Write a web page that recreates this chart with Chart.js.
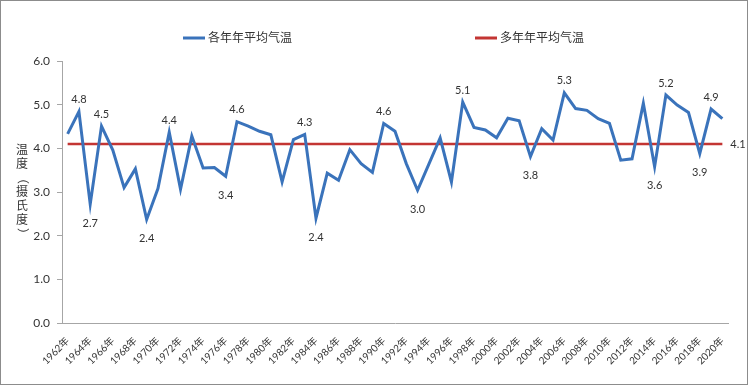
<!DOCTYPE html>
<html>
<head>
<meta charset="utf-8">
<script src="https://cdn.jsdelivr.net/npm/chart.js@4.4.1/dist/chart.umd.min.js"></script>
<style>
  html, body { margin: 0; padding: 0; background: #fff; }
  canvas { display: block; }
</style>
</head>
<body>
<canvas id="myChart" width="748" height="385"></canvas>
<script>
var years = ['1962年','1963年','1964年','1965年','1966年','1967年','1968年','1969年','1970年','1971年',
             '1972年','1973年','1974年','1975年','1976年','1977年','1978年','1979年','1980年','1981年',
             '1982年','1983年','1984年','1985年','1986年','1987年','1988年','1989年','1990年','1991年',
             '1992年','1993年','1994年','1995年','1996年','1997年','1998年','1999年','2000年','2001年',
             '2002年','2003年','2004年','2005年','2006年','2007年','2008年','2009年','2010年','2011年',
             '2012年','2013年','2014年','2015年','2016年','2017年','2018年','2019年','2020年'];

var annualTemp = [4.33,4.84,2.72,4.51,3.96,3.10,3.53,2.37,3.08,4.37,
                  3.06,4.28,3.55,3.56,3.36,4.61,4.51,4.39,4.31,3.23,
                  4.20,4.32,2.40,3.43,3.27,3.97,3.65,3.45,4.57,4.39,
                  3.65,3.04,3.64,4.24,3.23,5.06,4.48,4.42,4.24,4.69,
                  4.63,3.81,4.45,4.19,5.27,4.91,4.87,4.68,4.57,3.73,
                  3.76,5.03,3.58,5.22,4.99,4.82,3.88,4.90,4.68];

var avgTemp = 4.1;

var labeledYears = ['1963年','1964年','1965年','1969年','1971年','1976年','1977年','1983年','1984年',
                    '1990年','1993年','1997年','2003年','2006年','2014年','2015年','2018年','2019年'];

var seriesNames = ['各年年平均气温', '多年年平均气温'];
var yTitle = ['温','度','（','摄','氏','度','）'];

var blue = '#3a73bb';
var red = '#c33533';
var textColor = '#333333';
var axisColor = '#a6a6a6';
var fontFamily = 'Lato, "Noto Sans CJK SC", sans-serif';

Chart.defaults.font.family = fontFamily;
Chart.defaults.color = textColor;

// point labels, legend, y title and frame
var extras = {
    id: 'extras',
    afterDatasetsDraw: function(chart) {
        var ctx = chart.ctx;
        var meta = chart.getDatasetMeta(0);
        ctx.save();
        ctx.font = '11px ' + fontFamily;
        ctx.fillStyle = textColor;
        ctx.textAlign = 'center';
        ctx.textBaseline = 'middle';
        labeledYears.forEach(function(y){
            var i = years.indexOf(y);
            var pt = meta.data[i];
            var v = annualTemp[i];
            var dy = v >= avgTemp ? -12 : 19;
            ctx.fillText(v.toFixed(1), pt.x, pt.y + dy);
        });
        var meta1 = chart.getDatasetMeta(1);
        var last = meta1.data[meta1.data.length - 1];
        ctx.textAlign = 'left';
        ctx.fillText(avgTemp.toFixed(1), last.x + 8, last.y);
        ctx.restore();
    },
    afterDraw: function(chart) {
        var ctx = chart.ctx;
        var area = chart.chartArea;
        ctx.save();
        // legend
        var items = [{x: 183, color: blue, text: seriesNames[0]},
                     {x: 475, color: red, text: seriesNames[1]}];
        ctx.font = '12px ' + fontFamily;
        ctx.textBaseline = 'middle';
        ctx.textAlign = 'left';
        items.forEach(function(it){
            ctx.strokeStyle = it.color;
            ctx.lineWidth = 3;
            ctx.beginPath();
            ctx.moveTo(it.x, 38);
            ctx.lineTo(it.x + 22, 38);
            ctx.stroke();
            ctx.fillStyle = textColor;
            ctx.fillText(it.text, it.x + 25, 38);
        });
        // stacked y axis title, brackets turned sideways
        var mid = (area.top + area.bottom) / 2;
        ctx.textAlign = 'center';
        yTitle.forEach(function(ch, i){
            var cy = mid + (i - 3) * 14;
            if (ch === '（' || ch === '）') {
                ctx.save();
                ctx.translate(22, cy);
                ctx.rotate(Math.PI / 2);
                ctx.fillText(ch, 0, 0);
                ctx.restore();
            } else {
                ctx.fillText(ch, 22, cy);
            }
        });
        // outer frame
        ctx.strokeStyle = '#8c8c8c';
        ctx.lineWidth = 1;
        ctx.strokeRect(0.5, 0.5, chart.width - 1, chart.height - 1);
        ctx.restore();
    }
};

var ctx = document.getElementById('myChart').getContext('2d');
var myChart = new Chart(ctx, {
    type: 'line',
    data: {
        labels: years,
        datasets: [{
            label: seriesNames[0],
            data: annualTemp,
            borderColor: blue,
            backgroundColor: blue,
            borderWidth: 3,
            pointRadius: 0,
            tension: 0
        }, {
            label: seriesNames[1],
            data: years.map(function(){ return avgTemp; }),
            borderColor: red,
            backgroundColor: red,
            borderWidth: 2.5,
            pointRadius: 0,
            tension: 0
        }]
    },
    options: {
        responsive: false,
        animation: false,
        layout: { padding: { left: 0, right: 20, top: 61, bottom: 0 } },
        plugins: {
            legend: { display: false },
            tooltip: { enabled: false }
        },
        scales: {
            x: {
                offset: true,
                grid: { display: false },
                border: { color: axisColor },
                ticks: {
                    autoSkip: false,
                    maxRotation: 45,
                    minRotation: 45,
                    padding: 4,
                    font: { size: 10 },
                    color: textColor,
                    callback: function(val, i) {
                        return i % 2 === 0 ? this.getLabelForValue(val) : '';
                    }
                },
                afterFit: function(s) { s.height = 62; }
            },
            y: {
                min: 0,
                max: 6,
                grid: { display: true, drawOnChartArea: false, tickLength: 5, color: axisColor },
                border: { color: axisColor },
                ticks: {
                    stepSize: 1,
                    padding: 7,
                    font: { size: 12 },
                    color: textColor,
                    callback: function(v) { return v.toFixed(1); }
                },
                afterFit: function(s) { s.width = 62; }
            }
        }
    },
    plugins: [extras]
});
</script>
</body>
</html>
